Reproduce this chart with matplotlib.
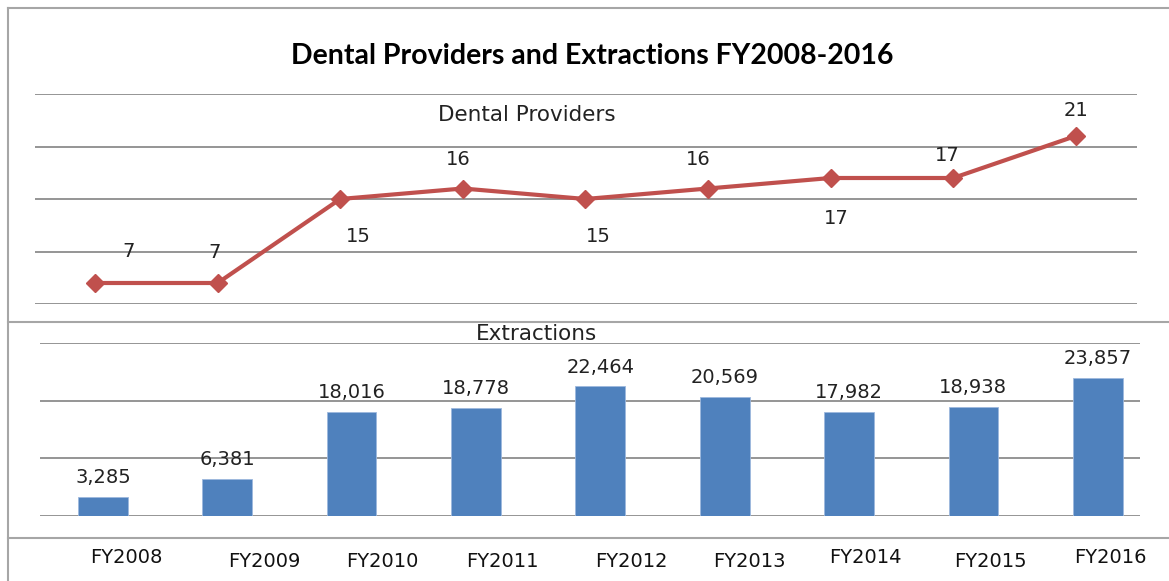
import matplotlib.pyplot as plt
from matplotlib.lines import Line2D
import matplotlib.transforms as mtransforms

years = ["FY2008", "FY2009", "FY2010", "FY2011", "FY2012",
         "FY2013", "FY2014", "FY2015", "FY2016"]
providers = [7, 7, 15, 16, 15, 16, 17, 17, 21]
extractions = [3285, 6381, 18016, 18778, 22464, 20569, 17982, 18938, 23857]

# label offsets (points) as they sit in the original chart
prov_label_off = [(24, 23), (-2, 22), (13, -27), (-3, 21), (9, -27),
                  (-7, 21), (4, -29), (-4, 16), (0, 18)]
year_label_off = [(17, -30), (27, -33), (22, -33), (19, -33), (22, -33),
                  (18, -33), (12, -30), (12, -33), (9, -30)]

red = "#C0504D"
blue = "#4F81BD"
grid_c = "#8C8C8C"
num_font = "DejaVu Sans"
num_size = 14

W, H = 1169, 581
fig = plt.figure(figsize=(W / 100, H / 100), dpi=100)


def px_axes(x0, y0, x1, y1):
    return fig.add_axes([x0 / W, 1 - y1 / H, (x1 - x0) / W, (y1 - y0) / H])


# --- frame lines
for (xa, ya, xb, yb) in [(8, 8, W, 8), (8, 8, 8, H), (8, 322, W, 322), (8, 538, W, 538)]:
    fig.add_artist(Line2D([xa / W, xb / W], [1 - ya / H, 1 - yb / H],
                          transform=fig.transFigure, color="#A6A6A6", lw=1.5))

fig.text(592 / W, 1 - 56 / H, "Dental Providers and Extractions FY2008-2016",
         ha="center", va="center", fontsize=20.5, fontweight="bold", family="Lato")

# --- upper line panel
ax1 = px_axes(35, 94, 1137, 304)
ax1.set_xlim(-0.49, 8.5)
ax1.set_ylim(5, 25)
ax1.set_yticks([5, 10, 15, 20, 25])
ax1.grid(axis="y", color=grid_c, lw=1.3)
ax1.set_axisbelow(True)
ax1.tick_params(left=False, bottom=False, labelleft=False, labelbottom=False)
for s in ax1.spines.values():
    s.set_visible(False)
x = list(range(len(years)))
ax1.plot(x, providers, color=red, lw=3, marker="D", markersize=9, clip_on=False)
for i, v in enumerate(providers):
    ax1.annotate(str(v), (i, v), xytext=prov_label_off[i], textcoords="offset points",
                 ha="center", va="center", fontsize=num_size, family=num_font, color="#222222")
ax1.text(527 / W, 1 - 115 / H, "Dental Providers", transform=fig.transFigure, ha="center",
         va="center", fontsize=15.5, family=num_font, color="#222222")

# --- lower bar panel
ax2 = px_axes(40, 343, 1140, 516)
ax2.set_xlim(-0.506, 8.34)
ax2.set_ylim(0, 30000)
ax2.set_yticks([0, 10000, 20000, 30000])
ax2.grid(axis="y", color=grid_c, lw=1.3)
ax2.set_axisbelow(True)
ax2.tick_params(left=False, bottom=False, labelleft=False, labelbottom=False)
for s in ax2.spines.values():
    s.set_visible(False)
ax2.bar(x, extractions, width=0.4, color=blue, edgecolor="#9DB8DD", lw=0.6)
for i, v in enumerate(extractions):
    ax2.annotate(f"{v:,}", (i, v), xytext=(0, 14), textcoords="offset points",
                 ha="center", va="center", fontsize=num_size, family=num_font, color="#222222")
ax2.text(537 / W, 1 - 334 / H, "Extractions", transform=fig.transFigure, ha="center",
         va="center", fontsize=15.5, family=num_font, color="#222222")

trans = mtransforms.blended_transform_factory(ax2.transData, ax2.transAxes)
for i, lab in enumerate(years):
    ax2.annotate(lab, (i, 0), xycoords=trans, xytext=year_label_off[i],
                 textcoords="offset points", ha="center", va="center",
                 fontsize=num_size, family=num_font, color="#111111", annotation_clip=False)

fig.savefig("out.png", dpi=100)
